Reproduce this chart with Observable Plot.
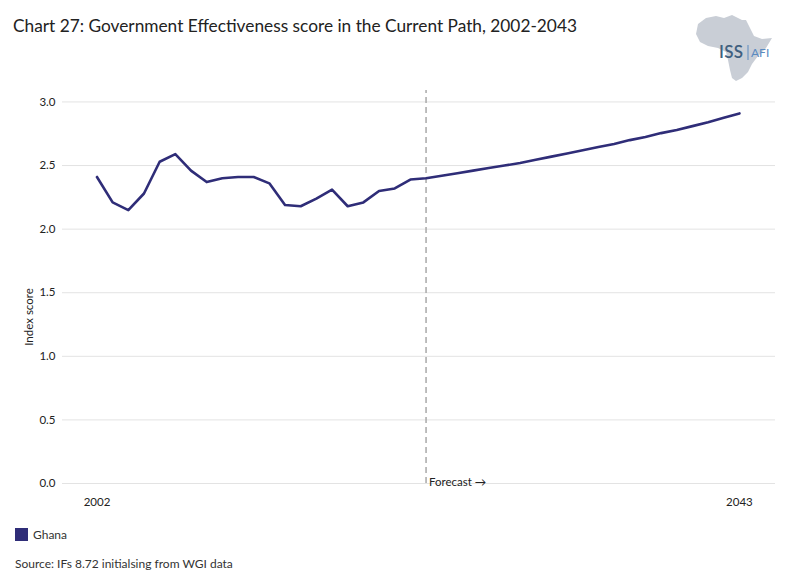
<!DOCTYPE html>
<html>
<head>
<meta charset="utf-8">
<script src="https://cdn.jsdelivr.net/npm/d3@7"></script>
<script src="https://cdn.jsdelivr.net/npm/@observablehq/plot@0.6"></script>
<style>
  body { margin: 0; background: #fff; font-family: Lato, "Open Sans", sans-serif; }
  #wrap { position: relative; width: 786px; height: 585px; overflow: hidden; }
  #title { position: absolute; left: 13px; top: 15px; font-size: 17.3px; color: #222; white-space: nowrap; }
  #logo { position: absolute; left: 692px; top: 12px; }
  #chart { position: absolute; left: 0; top: 60px; }
  #legend { position: absolute; left: 15px; top: 527px; font-size: 12px; color: #333; display: flex; align-items: center; }
  #legend span.sw { display: inline-block; width: 13px; height: 13px; background: #2f2d78; margin-right: 5px; }
  #source { position: absolute; left: 15px; top: 556px; font-size: 12px; color: #333; }
</style>
</head>
<body>
<div id="wrap">
  <div id="title">Chart 27: Government Effectiveness score in the Current Path, 2002-2043</div>
  <svg id="logo" width="86" height="72" viewBox="0 0 86 72">
    <path d="M6,12 L14,6 L24,4 L32,6 L40,3 L50,8 L54,8 L58,16 L62,24 L70,27 L80,26 L74,36 L66,44 L60,52 L56,60 L50,66 L44,69 L40,66 L38,58 L36,48 L34,40 L26,36 L16,34 L8,30 L4,22 Z" fill="#c9ced6"/>
    <text x="27" y="46" font-family="Lato, sans-serif" font-size="17" font-weight="600" fill="#3f5f7f" letter-spacing="0.3">ISS</text>
    <line x1="56" y1="33" x2="56" y2="48" stroke="#5a8ac0" stroke-width="1"/>
    <text x="59" y="45" font-family="Lato, sans-serif" font-size="12" fill="#5a8ac0">AFI</text>
  </svg>
  <div id="chart"></div>
  <div id="legend"><span class="sw"></span>Ghana</div>
  <div id="source">Source: IFs 8.72 initialsing from WGI data</div>
</div>
<script>
const years = d3.range(2002, 2044);
const ghana = [
  2.41, 2.21, 2.15, 2.28, 2.53, 2.59, 2.46, 2.37, 2.40, 2.41,
  2.41, 2.36, 2.19, 2.18, 2.24, 2.31, 2.18, 2.21, 2.30, 2.32,
  2.39, 2.40,
  2.42, 2.44, 2.46, 2.48, 2.50, 2.52, 2.545, 2.57, 2.595, 2.62,
  2.645, 2.67, 2.70, 2.725, 2.755, 2.78, 2.81, 2.84, 2.875, 2.91
];
const yTicks = [0, 0.5, 1.0, 1.5, 2.0, 2.5, 3.0];
const xTicks = [2002, 2043];
const forecastYear = 2023;
const forecastLabel = "Forecast \u2192";
const yLabel = "Index score";

const data = years.map((y, i) => ({year: y, value: ghana[i]}));

const chart = Plot.plot({
  width: 786,
  height: 455,
  marginLeft: 62,
  marginRight: 11,
  marginTop: 30,
  marginBottom: 32,
  style: {fontFamily: "Lato, 'Open Sans', sans-serif", fontSize: "11px", color: "#222"},
  x: {domain: [1999.8, 2045.3], ticks: xTicks, tickFormat: d => String(d), tickSize: 0, label: null},
  y: {domain: [0, 3.09], ticks: yTicks, tickFormat: d3.format(".1f"), tickSize: 0, label: null},
  marks: [
    Plot.gridY(yTicks, {stroke: "#e3e3e3", strokeOpacity: 1, strokeWidth: 1}),
    Plot.axisY(yTicks, {tickSize: 0, tickPadding: 7, tickFormat: d3.format(".1f"), fontSize: 11.5, label: null}),
    Plot.axisX(xTicks, {tickSize: 0, tickPadding: 14, tickFormat: d => String(d), fontSize: 11.5, label: null}),
    Plot.ruleX([forecastYear], {y1: 0, y2: 3.09, stroke: "#a8a8a8", strokeWidth: 1.5, strokeDasharray: "6,4"}),
    Plot.text([forecastLabel], {x: forecastYear, y: 0, dx: 3, dy: -1, textAnchor: "start", lineAnchor: "middle", fontSize: 11.5, fill: "#222"}),
    Plot.lineY(data, {x: "year", y: "value", stroke: "#2f2d78", strokeWidth: 2.6}),
  ]
});
document.getElementById("chart").appendChild(chart);

const svg = d3.select(chart);
svg.append("text")
  .attr("transform", "translate(33,257) rotate(-90)")
  .attr("text-anchor", "middle")
  .attr("font-size", "11.5px")
  .attr("fill", "#222")
  .text(yLabel);
</script>
</body>
</html>
